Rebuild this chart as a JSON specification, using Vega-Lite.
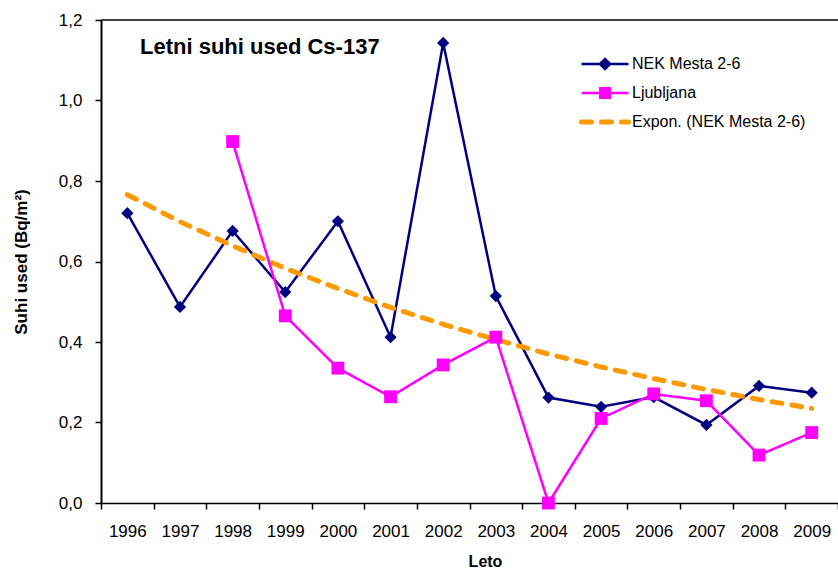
{
  "$schema": "https://vega.github.io/schema/vega-lite/v6.json",
  "autosize": {"type": "none"},
  "width": 737,
  "height": 483,
  "padding": {"left": 101, "top": 20, "right": 0, "bottom": 65},
  "background": "white",
  "config": {
    "view": {"stroke": null},
    "font": "Liberation Sans",
    "axis": {"labelFont": "Liberation Sans", "titleFont": "Liberation Sans", "labelColor": "black", "titleColor": "black", "domainColor": "black", "tickColor": "black", "grid": false},
    "legend": {"labelFont": "Liberation Sans", "labelFontSize": 16, "labelColor": "black"}
  },
  "title": {"text": "Letni suhi used Cs-137", "anchor": "start", "frame": "group", "fontSize": 22, "fontWeight": "bold", "font": "Liberation Sans", "color": "black", "offset": 0, "dx": 39, "dy": 65, "baseline": "alphabetic"},
  "data": {"values": [
    {"year": "1996", "series": "NEK Mesta 2-6", "value": 0.72},
    {"year": "1997", "series": "NEK Mesta 2-6", "value": 0.487},
    {"year": "1998", "series": "NEK Mesta 2-6", "value": 0.676},
    {"year": "1999", "series": "NEK Mesta 2-6", "value": 0.524},
    {"year": "2000", "series": "NEK Mesta 2-6", "value": 0.70},
    {"year": "2001", "series": "NEK Mesta 2-6", "value": 0.412},
    {"year": "2002", "series": "NEK Mesta 2-6", "value": 1.143},
    {"year": "2003", "series": "NEK Mesta 2-6", "value": 0.514},
    {"year": "2004", "series": "NEK Mesta 2-6", "value": 0.262},
    {"year": "2005", "series": "NEK Mesta 2-6", "value": 0.239},
    {"year": "2006", "series": "NEK Mesta 2-6", "value": 0.263},
    {"year": "2007", "series": "NEK Mesta 2-6", "value": 0.194},
    {"year": "2008", "series": "NEK Mesta 2-6", "value": 0.291},
    {"year": "2009", "series": "NEK Mesta 2-6", "value": 0.274},
    {"year": "1998", "series": "Ljubljana", "value": 0.898},
    {"year": "1999", "series": "Ljubljana", "value": 0.465},
    {"year": "2000", "series": "Ljubljana", "value": 0.335},
    {"year": "2001", "series": "Ljubljana", "value": 0.264},
    {"year": "2002", "series": "Ljubljana", "value": 0.343},
    {"year": "2003", "series": "Ljubljana", "value": 0.412},
    {"year": "2004", "series": "Ljubljana", "value": 0.0},
    {"year": "2005", "series": "Ljubljana", "value": 0.21},
    {"year": "2006", "series": "Ljubljana", "value": 0.271},
    {"year": "2007", "series": "Ljubljana", "value": 0.254},
    {"year": "2008", "series": "Ljubljana", "value": 0.119},
    {"year": "2009", "series": "Ljubljana", "value": 0.175},
    {"year": "1996", "series": "Expon. (NEK Mesta 2-6)", "value": 0.766},
    {"year": "1997", "series": "Expon. (NEK Mesta 2-6)", "value": 0.699},
    {"year": "1998", "series": "Expon. (NEK Mesta 2-6)", "value": 0.639},
    {"year": "1999", "series": "Expon. (NEK Mesta 2-6)", "value": 0.583},
    {"year": "2000", "series": "Expon. (NEK Mesta 2-6)", "value": 0.533},
    {"year": "2001", "series": "Expon. (NEK Mesta 2-6)", "value": 0.486},
    {"year": "2002", "series": "Expon. (NEK Mesta 2-6)", "value": 0.444},
    {"year": "2003", "series": "Expon. (NEK Mesta 2-6)", "value": 0.406},
    {"year": "2004", "series": "Expon. (NEK Mesta 2-6)", "value": 0.370},
    {"year": "2005", "series": "Expon. (NEK Mesta 2-6)", "value": 0.338},
    {"year": "2006", "series": "Expon. (NEK Mesta 2-6)", "value": 0.309},
    {"year": "2007", "series": "Expon. (NEK Mesta 2-6)", "value": 0.282},
    {"year": "2008", "series": "Expon. (NEK Mesta 2-6)", "value": 0.257},
    {"year": "2009", "series": "Expon. (NEK Mesta 2-6)", "value": 0.235}
  ]},
  "encoding": {
    "y": {
      "field": "value", "type": "quantitative",
      "scale": {"domain": [0, 1.2], "nice": false, "zero": true},
      "axis": {"title": "Suhi used (Bq/m²)", "titleFontSize": 17, "titleFontWeight": "bold", "titlePadding": 28, "domain": true,
        "values": [0, 0.2, 0.4, 0.6, 0.8, 1.0, 1.2],
        "labelExpr": "replace(format(datum.value, '.1f'), '.', ',')",
        "labelFontSize": 17, "labelPadding": 13, "tickSize": 6, "tickWidth": 1.5, "domainWidth": 2}
    }
  },
  "layer": [
    {
      "encoding": {
        "x": {
          "field": "year", "type": "ordinal",
          "scale": {"paddingInner": 0, "paddingOuter": 0},
          "axis": {"title": "Leto", "titleFontSize": 16, "titleFontWeight": "bold", "titlePadding": 14, "titleX": 384,
            "labelFontSize": 17, "labelAngle": 0, "labelPadding": 14, "tickSize": 6, "tickWidth": 1.5, "domainWidth": 1.5,
            "tickBand": "extent"}
        },
        "color": {
          "field": "series", "type": "nominal",
          "scale": {"domain": ["NEK Mesta 2-6", "Ljubljana", "Expon. (NEK Mesta 2-6)"], "range": ["#000080", "#FF00FF", "#FF9900"]},
          "legend": {
            "title": null, "orient": "none", "legendX": 496, "legendY": 36,
            "symbolType": "stroke", "symbolSize": 2209, "symbolStrokeWidth": 2.5,
            "labelOffset": 19, "rowPadding": 9, "labelLimit": 400,
            "encode": {"symbols": {"update": {
              "shape": {"signal": "datum.value == 'NEK Mesta 2-6' ? 'M-1,0H1M0,-0.21L0.22,0L0,0.21L-0.22,0Z' : datum.value == 'Ljubljana' ? 'M-1,0H1M-0.2,-0.2H0.2V0.2H-0.2Z' : 'stroke'"},
              "fill": {"signal": "datum.value == 'NEK Mesta 2-6' ? '#000080' : datum.value == 'Ljubljana' ? '#FF00FF' : 'transparent'"},
              "strokeDash": {"signal": "datum.value == 'Expon. (NEK Mesta 2-6)' ? [10, 10] : [1, 0]"},
              "strokeWidth": {"signal": "datum.value == 'Expon. (NEK Mesta 2-6)' ? 5 : 2.5"},
              "strokeCap": {"signal": "datum.value == 'Expon. (NEK Mesta 2-6)' ? 'round' : 'butt'"},
              "opacity": {"value": 1}
            }}}
          }
        }
      },
      "layer": [
        {
          "transform": [{"filter": "datum.series == 'NEK Mesta 2-6'"}],
          "mark": {"type": "line", "strokeWidth": 2.5}
        },
        {
          "transform": [{"filter": "datum.series == 'Expon. (NEK Mesta 2-6)'"}],
          "mark": {"type": "line", "strokeWidth": 5, "strokeDash": [10, 10], "strokeCap": "round"}
        },
        {
          "transform": [{"filter": "datum.series == 'Ljubljana'"}],
          "mark": {"type": "line", "strokeWidth": 2.5}
        },
        {
          "transform": [{"filter": "datum.series != 'Expon. (NEK Mesta 2-6)'"}],
          "mark": {"type": "point", "filled": true, "opacity": 1},
          "encoding": {
            "shape": {
              "field": "series", "type": "nominal",
              "scale": {"domain": ["NEK Mesta 2-6", "Ljubljana"], "range": ["diamond", "square"]},
              "legend": null
            },
            "size": {
              "field": "series", "type": "nominal",
              "scale": {"domain": ["NEK Mesta 2-6", "Ljubljana"], "range": [150, 165]},
              "legend": null
            }
          }
        }
      ]
    },
    {
      "transform": [{"filter": "datum.year == '1996' && datum.series == 'NEK Mesta 2-6'"}],
      "mark": {"type": "rule", "color": "black", "strokeWidth": 1.5},
      "encoding": {
        "y": {"datum": 1.2, "type": "quantitative"}
      }
    }
  ]
}
